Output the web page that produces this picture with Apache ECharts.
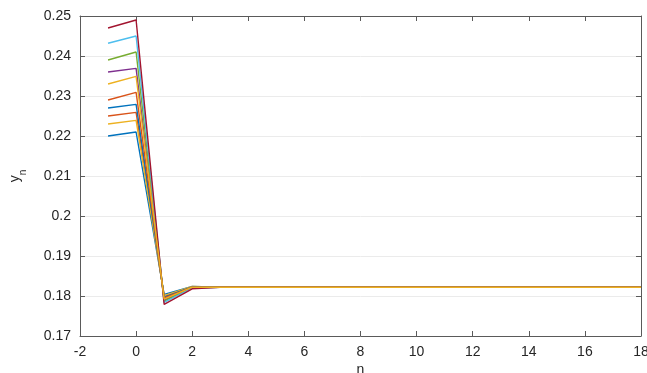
<!DOCTYPE html>
<html><head><meta charset="utf-8">
<script src="https://cdn.jsdelivr.net/npm/echarts@6/dist/echarts.min.js"></script>
<style>html,body{margin:0;padding:0;background:#fff}#c{width:647px;height:373px}</style>
</head><body><div id="c"></div>
<script>
const nValues = [-1,0,1,2,3,4,5,6,7,8,9,10,11,12,13,14,15,16,17,18];
const xTicks = [-2,0,2,4,6,8,10,12,14,16,18];
const yTicks = [0.17,0.18,0.19,0.2,0.21,0.22,0.23,0.24,0.25];
const tail = 0.1822;
// values at n=-1, n=0, n=1, n=2; later points settle at the tail value
const sMaroon    = [0.2470,0.2490,0.1779,0.1818];
const sLightBlue = [0.2432,0.2450,0.1784,0.1820];
const sGreen     = [0.2390,0.2410,0.1787,0.1821];
const sPurple    = [0.2360,0.2369,0.1790,0.1821];
const sYellow    = [0.2330,0.2349,0.1792,0.1822];
const sOrange    = [0.2290,0.2309,0.1795,0.1822];
const sBlue      = [0.2270,0.2279,0.1797,0.1823];
const sOrange2   = [0.2250,0.2259,0.1799,0.1823];
const sYellow2   = [0.2230,0.2239,0.1801,0.1824];
const sBlue2     = [0.2200,0.2210,0.1804,0.1824];

const seriesList = [
  [sBlue2,'#0072BD'],[sOrange2,'#D95319'],[sYellow2,'#EDB120'],[sPurple,'#7E2F8E'],
  [sGreen,'#77AC30'],[sLightBlue,'#4DBEEE'],[sMaroon,'#A2142F'],[sBlue,'#0072BD'],
  [sOrange,'#D95319'],[sYellow,'#EDB120']
];
function full(arr){
  const out = arr.slice();
  while(out.length < nValues.length) out.push(tail);
  return nValues.map((n,i)=>[n,out[i]]);
}
const font = 'Liberation Sans, Arial, Helvetica, sans-serif';
const axisColor = '#5a5a5a';
const txt = '#262626';
const chart = echarts.init(document.getElementById('c'));
chart.setOption({
  animation:false,
  grid:{left:80,right:6,top:16,bottom:37,containLabel:false,outerBoundsMode:'none'},
  xAxis:[{
    type:'value',min:-2,max:18,interval:2,position:'bottom',
    name:'n',nameLocation:'middle',nameGap:27,nameMoveOverlap:false,
    nameTextStyle:{color:txt,fontSize:14,fontFamily:font},
    axisLine:{show:true,onZero:false,lineStyle:{color:axisColor,width:1}},
    axisTick:{show:true,inside:true,length:5,lineStyle:{color:axisColor}},
    axisLabel:{color:txt,fontSize:14,fontFamily:font,margin:9,hideOverlap:false,
      formatter:v=>xTicks.includes(v)?String(v):''},
    splitLine:{show:false}
  },{
    type:'value',min:-2,max:18,interval:2,position:'top',
    axisLine:{show:true,onZero:false,lineStyle:{color:axisColor,width:1}},
    axisTick:{show:true,inside:true,length:5,lineStyle:{color:axisColor}},
    axisLabel:{show:false},splitLine:{show:false}
  }],
  yAxis:[{
    type:'value',min:0.17,max:0.25,interval:0.01,position:'left',
    name:'{a|y}{b|n}',nameLocation:'middle',nameGap:58,nameRotate:90,nameMoveOverlap:false,
    nameTextStyle:{rich:{a:{fontSize:14,fontFamily:font,color:txt},
      b:{fontSize:10,fontFamily:font,color:txt,verticalAlign:'bottom',padding:[0,0,-6,0]}}},
    axisLine:{show:true,onZero:false,lineStyle:{color:axisColor,width:1}},
    axisTick:{show:true,inside:true,length:5,lineStyle:{color:axisColor}},
    axisLabel:{color:txt,fontSize:14,fontFamily:font,margin:9,
      formatter:v=>{const t=yTicks.find(x=>Math.abs(x-v)<1e-9);return t===undefined?'':String(t);}},
    splitLine:{show:true,lineStyle:{color:'#ebebeb',width:1}}
  },{
    type:'value',min:0.17,max:0.25,interval:0.01,position:'right',
    axisLine:{show:true,onZero:false,lineStyle:{color:axisColor,width:1}},
    axisTick:{show:true,inside:true,length:5,lineStyle:{color:axisColor}},
    axisLabel:{show:false},splitLine:{show:false}
  }],
  series: seriesList.map(([arr,color])=>({
    type:'line',data:full(arr),xAxisIndex:0,yAxisIndex:0,
    showSymbol:false,symbol:'none',clip:true,
    lineStyle:{color:color,width:1.4}
  }))
});
</script></body></html>
